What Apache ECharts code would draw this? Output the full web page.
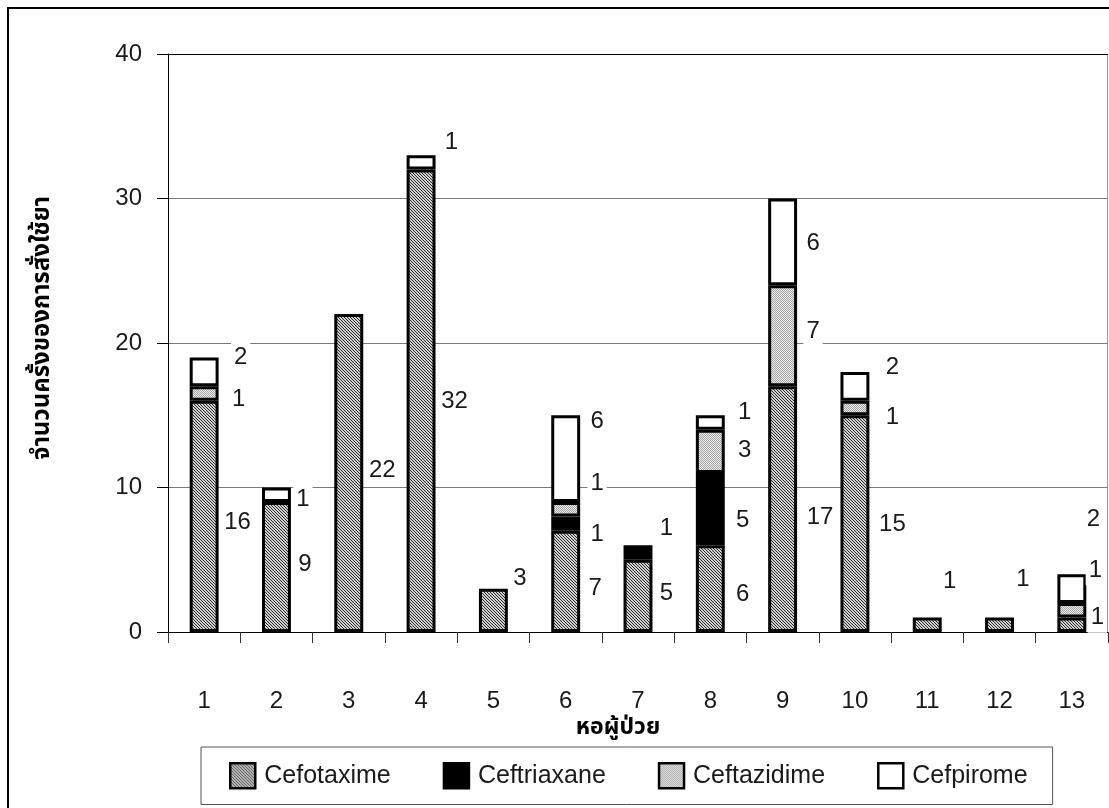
<!DOCTYPE html>
<html>
<head>
<meta charset="utf-8">
<script src="https://cdn.jsdelivr.net/npm/echarts@6/dist/echarts.min.js"></script>
<style>
  html, body { margin: 0; padding: 0; background: #fff; }
  #chart { width: 1109px; height: 808px; }
</style>
</head>
<body>
<div id="chart"></div>
<script>
// Wards (หอผู้ป่วย) and number of orders per drug
const wards = ['1', '2', '3', '4', '5', '6', '7', '8', '9', '10', '11', '12', '13'];
const cefotaxime  = [16, 9, 22, 32, 3, 7, 5, 6, 17, 15, 1, 1, 1];
const ceftriaxane = [0, 0, 0, 0, 0, 1, 1, 5, 0, 0, 0, 0, 0];
const ceftazidime = [1, 0, 0, 0, 0, 1, 0, 3, 7, 1, 0, 0, 1];
const cefpirome   = [2, 1, 0, 1, 0, 6, 0, 1, 6, 2, 0, 0, 2];
const drugNames = ['Cefotaxime', 'Ceftriaxane', 'Ceftazidime', 'Cefpirome'];

// Where each value label sits beside its segment: [dx from bar's right edge, dy from segment middle]
const labelNudge = [
  [[19, 6], [14, -3], [19, -3], [19, 1], [12, -32], [15, 7], [14, -3], [18, 6], [23, 8], [23, 1], [8, -43], [9, -45], [11, -7]],
  [null, null, null, null, null, [17, 11], [14, -24], [18, 11], null, null, null, null, null],
  [[20, 6], null, null, null, null, [17, -26], null, [20, -1], [16, -4], [23, 9], null, null, [9, -40]],
  [[22, -15], [12, 5], null, [16, -20], null, [17, -37], null, [20, -10], [16, 2], [23, -19], null, null, [7, -69]]
];

const FONT = '"Liberation Sans", Arial, "DejaVu Sans", sans-serif';
const THAI_FONT = 'Tahoma, "Noto Sans Thai", "Noto Sans", "DejaVu Sans", sans-serif';

// Fill patterns
function makePattern(size, bg, fg, cells) {
  const c = document.createElement('canvas');
  c.width = size; c.height = size;
  const ctx = c.getContext('2d');
  ctx.fillStyle = bg; ctx.fillRect(0, 0, size, size);
  ctx.fillStyle = fg;
  cells.forEach(([x, y]) => ctx.fillRect(x, y, 1, 1));
  return { image: c, repeat: 'repeat' };
}
const hatch = makePattern(3, '#cfcfcf', '#2e2e2e', [[0, 0], [1, 1], [2, 2]]);
const dots = makePattern(2, '#ececec', '#a4a4a4', [[0, 0], [1, 1]]);
const fills = [hatch, '#000000', dots, '#ffffff'];
const values = [cefotaxime, ceftriaxane, ceftazidime, cefpirome];

const series = drugNames.map((name, s) => ({
  name: name,
  type: 'bar',
  stack: 'orders',
  barWidth: '40%',
  itemStyle: { color: fills[s], borderColor: '#000', borderWidth: 3 },
  label: {
    show: true,
    position: 'right',
    distance: 0,
    align: 'center',
    verticalAlign: 'middle',
    fontFamily: FONT,
    fontSize: 24,
    color: '#1a1a1a',
    backgroundColor: '#fff',
    padding: [3, 3]
  },
  emphasis: { disabled: true },
  data: values[s].map((v, i) => {
    if (!v) return '-';
    const n = labelNudge[s][i] || [12, 0];
    return { value: v, label: { offset: n } };
  })
}));

const chart = echarts.init(document.getElementById('chart'), null, { renderer: 'canvas' });
chart.setOption({
  animation: false,
  backgroundColor: '#fff',
  grid: { left: 168, right: 1, top: 54, bottom: 176, outerBoundsMode: 'none' },
  xAxis: {
    type: 'category',
    data: wards,
    name: 'หอผู้ป่วย',
    nameLocation: 'middle',
    nameGap: 80,
    nameTextStyle: { fontFamily: THAI_FONT, fontWeight: 'bold', fontSize: 23, color: '#000', padding: [0, 40, 0, 0] },
    axisLine: { lineStyle: { color: '#000', width: 1 } },
    axisTick: { show: true, length: 11, alignWithLabel: false, lineStyle: { color: '#333' } },
    axisLabel: { margin: 57, fontFamily: FONT, fontSize: 24, color: '#1a1a1a' },
    splitLine: { show: false }
  },
  yAxis: {
    type: 'value',
    min: 0,
    max: 40,
    interval: 10,
    name: 'จำนวนครั้งของการสั่งใช้ยา',
    nameLocation: 'middle',
    nameGap: 112,
    nameTextStyle: { fontFamily: THAI_FONT, fontWeight: 'bold', fontSize: 24, color: '#000', padding: [0, 0, 0, 30] },
    axisLine: { show: true, lineStyle: { color: '#000', width: 1 } },
    axisTick: { show: true, length: 11, lineStyle: { color: '#000' } },
    axisLabel: { margin: 26, fontFamily: FONT, fontSize: 24, color: '#1a1a1a' },
    splitLine: { show: true, lineStyle: { color: ['#7a7a7a', '#7a7a7a', '#7a7a7a', '#7a7a7a', '#000'], width: 1 } }
  },
  legend: {
    data: drugNames,
    left: 201,
    top: 747,
    orient: 'horizontal',
    padding: [15, 25, 15, 28],
    itemGap: 52,
    itemWidth: 25,
    itemHeight: 25,
    icon: 'rect',
    selectedMode: false,
    borderColor: '#555',
    borderWidth: 1,
    itemStyle: { borderColor: '#000', borderWidth: 2.5 },
    textStyle: { fontFamily: FONT, fontSize: 25, color: '#1a1a1a', padding: [0, 0, 0, 4] }
  },
  graphic: [
    { type: 'rect', z: -10, silent: true, shape: { x: 8, y: 8, width: 1200, height: 900 }, style: { fill: 'none', stroke: '#000', lineWidth: 2 } },
    { type: 'line', z: -5, silent: true, shape: { x1: 1107.5, y1: 54, x2: 1107.5, y2: 632 }, style: { stroke: '#9a9a9a', lineWidth: 1 } }
  ],
  series: series
});
</script>
</body>
</html>
